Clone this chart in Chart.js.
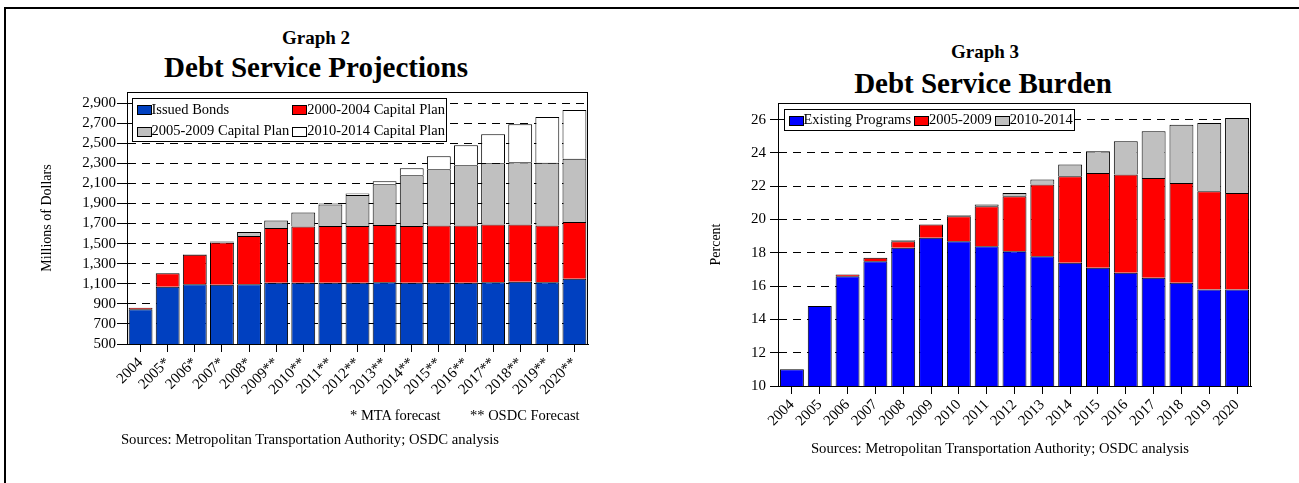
<!DOCTYPE html>
<html>
<head>
<meta charset="utf-8">
<title>Debt Service Projections / Debt Service Burden</title>
<script src="https://cdn.jsdelivr.net/npm/chart.js@4.4.1/dist/chart.umd.min.js"></script>
<style>
  html, body { margin: 0; padding: 0; background: #fff; }
  body { width: 1299px; height: 483px; position: relative; overflow: hidden;
         font-family: 'Liberation Serif', 'Times New Roman', serif; color: #000; }
  .frame { position: absolute; left: 4px; top: 7px; width: 1400px; height: 600px; border: 2px solid #000; }
  .txt { position: absolute; white-space: nowrap; }
  .c { width: 500px; text-align: center; }
  canvas { position: absolute; }
</style>
</head>
<body>
<div class="frame"></div>

<div class="txt c" style="left:66px; top:27px; font:bold 19px/22px 'Liberation Serif',serif;">Graph 2</div>
<div class="txt c" style="left:66px; top:50px; font:bold 29px/35px 'Liberation Serif',serif;">Debt Service Projections</div>
<div class="txt c" style="left:735px; top:41px; font:bold 19px/22px 'Liberation Serif',serif;">Graph 3</div>
<div class="txt c" style="left:733px; top:66px; font:bold 29px/35px 'Liberation Serif',serif;">Debt Service Burden</div>

<canvas id="graph2" width="600" height="330" style="left:0px; top:80px;"></canvas>
<canvas id="graph3" width="600" height="350" style="left:680px; top:90px;"></canvas>

<div class="txt" style="left:350px; top:406px; font:14.5px/18px 'Liberation Serif',serif;">* MTA forecast</div>
<div class="txt" style="left:470px; top:406px; font:14.5px/18px 'Liberation Serif',serif;">** OSDC Forecast</div>
<div class="txt c" style="left:60px; top:430px; font:14.7px/18px 'Liberation Serif',serif;">Sources: Metropolitan Transportation Authority; OSDC analysis</div>
<div class="txt c" style="left:750px; top:439px; font:14.7px/18px 'Liberation Serif',serif;">Sources: Metropolitan Transportation Authority; OSDC analysis</div>

<script>
// Graph 2 - debt service, millions of dollars
const years2 = ['2004', '2005*', '2006*', '2007*', '2008*', '2009**', '2010**', '2011**', '2012**',
                '2013**', '2014**', '2015**', '2016**', '2017**', '2018**', '2019**', '2020**'];
const issuedBonds = [845, 1070, 1095, 1090, 1095, 1110, 1110, 1110, 1110, 1115, 1110, 1110, 1110, 1115, 1120, 1115, 1150];
const plan0004    = [15, 135, 295, 420, 480, 545, 560, 565, 565, 570, 565, 570, 570, 575, 570, 565, 565];
const plan0509    = [0, 0, 5, 10, 40, 75, 140, 215, 310, 405, 505, 560, 600, 610, 620, 625, 630];
const plan1014    = [0, 0, 0, 0, 0, 0, 0, 10, 15, 30, 70, 130, 200, 290, 380, 455, 485];
const ticks2 = [500, 700, 900, 1100, 1300, 1500, 1700, 1900, 2100, 2300, 2500, 2700, 2900];

// Graph 3 - debt service burden, percent
const years3 = ['2004', '2005', '2006', '2007', '2008', '2009', '2010', '2011', '2012',
                '2013', '2014', '2015', '2016', '2017', '2018', '2019', '2020'];
const existingPrograms = [11.0, 14.8, 16.6, 17.5, 18.3, 18.9, 18.7, 18.4, 18.1, 17.8, 17.4, 17.1, 16.8, 16.5, 16.2, 15.8, 15.8];
const burden0509       = [0, 0, 0.1, 0.2, 0.4, 0.8, 1.5, 2.4, 3.3, 4.3, 5.2, 5.7, 5.9, 6.0, 6.0, 5.9, 5.8];
const burden1014       = [0, 0, 0, 0, 0.05, 0, 0.05, 0.1, 0.2, 0.3, 0.7, 1.3, 2.0, 2.8, 3.5, 4.1, 4.5];
const ticks3 = [10, 12, 14, 16, 18, 20, 22, 24, 26];

const SERIF = "'Liberation Serif', 'Times New Roman', serif";
Chart.defaults.font.family = SERIF;
Chart.defaults.color = '#000';

// plot frame + boxed legend drawn inside the plot area
const boxLegend = {
  id: 'boxLegend',
  afterDatasetsDraw(chart, args, o) {
    const {ctx, chartArea: a} = chart;
    ctx.save();
    ctx.strokeStyle = '#000';
    ctx.lineWidth = 1;
    ctx.strokeRect(Math.round(a.left) + 0.5, Math.round(a.top) + 0.5,
                   Math.round(a.right - a.left) - 1, Math.round(a.bottom - a.top));

    ctx.font = o.font;
    const sets = chart.data.datasets;
    const rows = Math.ceil(sets.length / o.cols);
    const colW = [];
    for (let c = 0; c < o.cols; c++) {
      let w = 0;
      for (let r = 0; r < rows; r++) {
        const ds = sets[r * o.cols + c];
        if (ds) w = Math.max(w, ctx.measureText(ds.label).width);
      }
      colW.push(o.swatchW + o.textGap + w);
    }
    const boxW = Math.round(o.padL + colW.reduce((s, w) => s + w, 0) + o.colGap * (o.cols - 1) + o.padR);
    const boxH = Math.round(rows * o.rowH);
    const bx = Math.round(a.left + o.x) + 0.5;
    const by = Math.round(a.top + o.y) + 0.5;
    ctx.fillStyle = '#fff';
    ctx.fillRect(bx, by, boxW, boxH);
    ctx.strokeRect(bx, by, boxW, boxH);

    ctx.textBaseline = 'middle';
    ctx.textAlign = 'left';
    sets.forEach((ds, i) => {
      const r = Math.floor(i / o.cols), c = i % o.cols;
      let x = bx + o.padL;
      for (let k = 0; k < c; k++) x += colW[k] + o.colGap;
      const cy = by + r * o.rowH + o.rowH / 2;
      const sx = Math.round(x) + 0.5, sy = Math.round(cy - o.swatchH / 2) + 0.5;
      ctx.fillStyle = ds.backgroundColor;
      ctx.fillRect(sx, sy, o.swatchW, o.swatchH);
      ctx.strokeRect(sx, sy, o.swatchW, o.swatchH);
      ctx.fillStyle = '#000';
      ctx.fillText(ds.label, x + o.swatchW + o.textGap, cy + 0.5);
    });
    ctx.restore();
  }
};

function bars(label, data, color, pct) {
  return {
    label: label, data: data, backgroundColor: color,
    borderColor: '#000', borderWidth: 1,
    barPercentage: pct, categoryPercentage: 1
  };
}

function makeChart(id, cfg) {
  return new Chart(document.getElementById(id), {
    type: 'bar',
    data: { labels: cfg.labels, datasets: cfg.datasets },
    plugins: [boxLegend],
    options: {
      responsive: false,
      animation: false,
      layout: { padding: cfg.padding },
      plugins: {
        legend: { display: false },
        tooltip: { enabled: false },
        boxLegend: cfg.legend
      },
      scales: {
        x: {
          stacked: true,
          afterFit: ax => { ax.height = cfg.xHeight; },
          ticks: { font: { size: 15 }, minRotation: 45, maxRotation: 45, autoSkip: false, padding: 2 },
          grid: { drawOnChartArea: false, offset: false, tickLength: 8, color: '#000' },
          border: { color: '#000', width: 1 }
        },
        y: {
          stacked: true,
          min: cfg.min, max: cfg.max,
          afterBuildTicks: ax => { ax.ticks = cfg.ticks.map(v => ({ value: v })); },
          afterFit: ax => { ax.width = cfg.yWidth; },
          ticks: { font: { size: 15 }, padding: cfg.tickPad, callback: cfg.fmt },
          grid: { color: '#000', lineWidth: 1, tickLength: cfg.tickLen, tickColor: '#000' },
          border: { color: '#000', width: 1, dash: [8, 6] },
          title: { display: true, text: cfg.yTitle, font: { size: 14 }, padding: { top: cfg.titlePad, bottom: 0 } }
        }
      }
    }
  });
}

makeChart('graph2', {
  labels: years2,
  datasets: [
    bars('Issued Bonds', issuedBonds, '#0040C0', 0.88),
    bars('2000-2004 Capital Plan', plan0004, '#FF0000', 0.88),
    bars('2005-2009 Capital Plan', plan0509, '#C0C0C0', 0.88),
    bars('2010-2014 Capital Plan', plan1014, '#FFFFFF', 0.88)
  ],
  min: 500, max: 3010, ticks: ticks2,
  fmt: v => v.toLocaleString('en-US'),
  yTitle: 'Millions of Dollars', titlePad: 38.6,
  yWidth: 127, xHeight: 66, tickLen: 10, tickPad: 1,
  padding: { left: 0, top: 12, right: 12, bottom: 0 },
  legend: { font: "14.5px " + SERIF, cols: 2, x: 5, y: 6, rowH: 21.7, padL: 4, padR: 1.5,
            swatchW: 14, swatchH: 9, textGap: 1, colGap: 3 }
});

makeChart('graph3', {
  labels: years3,
  datasets: [
    bars('Existing Programs', existingPrograms, '#0000FF', 0.86),
    bars('2005-2009', burden0509, '#FF0000', 0.86),
    bars('2010-2014', burden1014, '#C0C0C0', 0.86)
  ],
  min: 10, max: 27, ticks: ticks3,
  fmt: v => String(v),
  yTitle: 'Percent', titlePad: 27.6,
  yWidth: 98, xHeight: 54, tickLen: 8, tickPad: 4,
  padding: { left: 0, top: 10, right: 29, bottom: 0 },
  legend: { font: "14.5px " + SERIF, cols: 3, x: 6, y: 6, rowH: 21.3, padL: 4, padR: 1.5,
            swatchW: 14, swatchH: 9, textGap: 1, colGap: 3 }
});
</script>
</body>
</html>
